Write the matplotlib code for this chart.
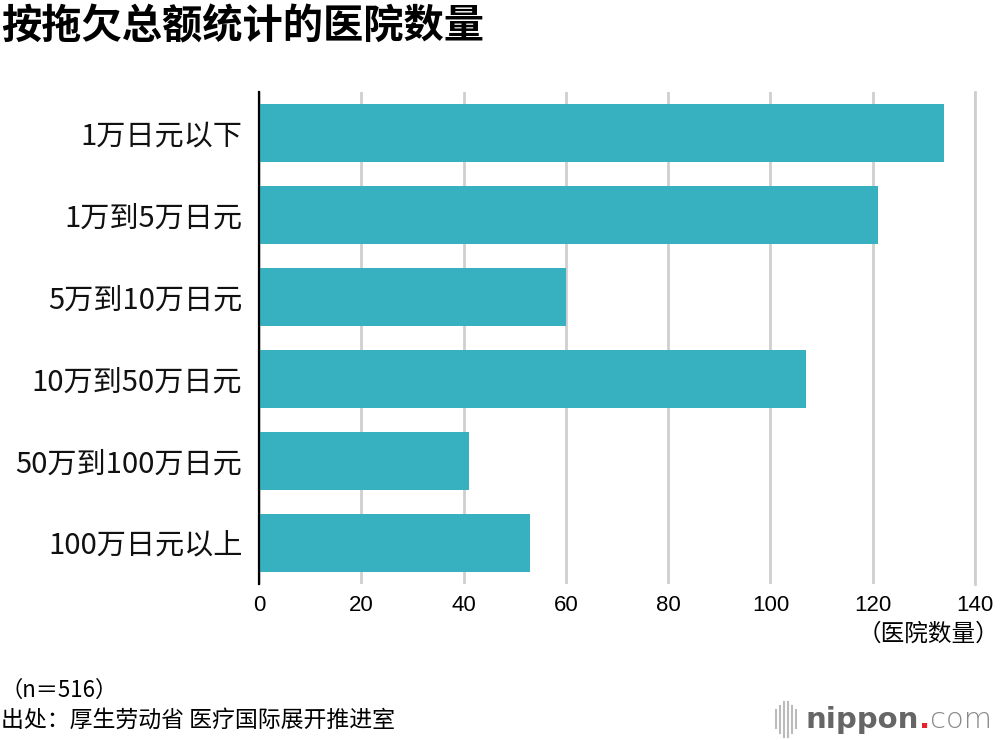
import matplotlib
matplotlib.use("Agg")
import matplotlib.pyplot as plt
from matplotlib.lines import Line2D

plt.rcParams['font.family'] = ['Noto Sans CJK SC', 'DejaVu Sans']

categories = ["1万日元以下", "1万到5万日元", "5万到10万日元", "10万到50万日元", "50万到100万日元", "100万日元以上"]
values = [134, 121, 60, 107, 41, 53]
xticks = [0, 20, 40, 60, 80, 100, 120, 140]

title = "按拖欠总额统计的医院数量"
unit_label = "（医院数量）"
note_n = "（n＝516）"
source = "出处：厚生劳动省 医疗国际展开推进室"

bar_color = "#37b1c0"
grid_color = "#cfcfcf"

fig = plt.figure(figsize=(10, 7.4), dpi=100)
ax = fig.add_axes([0.259, 0.2108, 0.716, 0.6649])

y = list(range(len(categories)))
ax.barh(y, values, height=0.7, color=bar_color, zorder=3)
ax.set_ylim(len(categories) - 0.5, -0.5)
ax.set_xlim(0, 140)
ax.set_xticks(xticks)
ax.set_xticklabels([str(t) for t in xticks], fontsize=16, family=['Liberation Sans'])
ax.set_yticks(y)
ax.set_yticklabels(categories, fontsize=21, color='#111111')
ax.tick_params(axis='both', length=0)
ax.tick_params(axis='x', pad=8)
ax.tick_params(axis='y', pad=12)
for s in ['top', 'right', 'bottom']:
    ax.spines[s].set_visible(False)
ax.spines['left'].set_linewidth(1.6)
ax.spines['left'].set_color('black')
ax.spines['left'].set_zorder(4)
ax.xaxis.grid(True, color=grid_color, linewidth=2, zorder=0)
ax.set_axisbelow(True)
ax.axvline(140, color=grid_color, linewidth=2, zorder=0, clip_on=False)

fig.text(0.001, 0.963, title, fontsize=29, fontweight='bold', ha='left', va='center')
fig.text(0.999, 0.143, unit_label, fontsize=17, ha='right', va='center')
fig.text(0.0, 0.067, note_n, fontsize=16, ha='left', va='center')
fig.text(0.001, 0.027, source, fontsize=16.5, ha='left', va='center')

# logo
icon_x = [0.776, 0.780, 0.784, 0.788, 0.792, 0.796]
icon_h = [0.012, 0.018, 0.024, 0.024, 0.018, 0.012]
for xx, hh in zip(icon_x, icon_h):
    fig.add_artist(Line2D([xx, xx], [0.028 - hh, 0.028 + hh], color='#bbbbbb', linewidth=1.5))
t1 = fig.text(0.806, 0.027, "nippon", fontsize=21, fontweight='bold', color='#666666', ha='left', va='center', family=['DejaVu Sans'])
fig.canvas.draw()
r = fig.canvas.get_renderer()
bb = t1.get_window_extent(r)
x2 = bb.x1 / fig.bbox.width
t2 = fig.text(x2, 0.027, ".", fontsize=21, fontweight='bold', color='#e8202a', ha='left', va='center', family=['DejaVu Sans'])
bb2 = t2.get_window_extent(r)
x3 = bb2.x1 / fig.bbox.width
fig.text(x3, 0.027, "com", fontsize=21, fontweight='light', color='#888888', ha='left', va='center', family=['DejaVu Sans'])

fig.savefig("out.png", dpi=100)
